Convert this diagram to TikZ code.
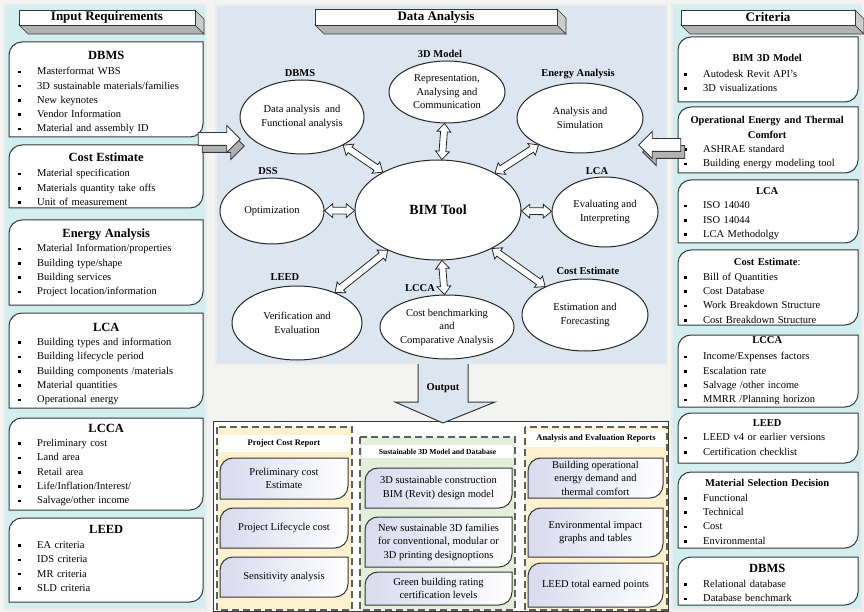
\documentclass[tikz,border=0pt]{standalone}
\usepackage{fontspec}
\setmainfont{Liberation Serif}
\usetikzlibrary{shapes.geometric,shapes.arrows,calc}

\definecolor{bgpage}{RGB}{243,243,241}
\definecolor{sidecyan}{RGB}{210,238,238}
\definecolor{midblue}{RGB}{220,230,241}
\definecolor{repyellow}{RGB}{253,241,208}
\definecolor{repgreen}{RGB}{227,239,218}
\definecolor{lavender}{RGB}{216,218,238}
\definecolor{edge}{RGB}{55,55,55}

\tikzset{
  panel/.style={draw=edge, line width=0.6pt, double=white!85!gray, double distance=1.3pt},
  rdframe/.style={draw=edge, line width=1pt, fill=white},
  outframe/.style={draw=edge, line width=1pt, left color=lavender, right color=white},
  colframe/.style={draw=edge!80, line width=1.3pt, dash pattern=on 7pt off 4pt},
  bubble/.style={ellipse, draw=black!85, line width=1pt, fill=white, align=center, inner sep=0pt, font=\fontsize{10.5}{13.5}\selectfont},
  bubtitle/.style={font=\fontsize{10.5}{12}\selectfont\bfseries},
  dblarrow/.style={double arrow, draw=black!85, line width=0.8pt, fill=white, inner xsep=0pt, inner ysep=3pt, double arrow head extend=3.5pt, double arrow tip angle=80},
  sidearr/.style={single arrow, draw=edge, line width=0.8pt, fill=white, minimum height=42pt, inner xsep=0pt, inner ysep=6pt, single arrow head extend=7pt},
  listtxt/.style={anchor=north west, inner sep=0pt, text width=#1, font=\fontsize{10.5}{14.3}\selectfont},
  outtxt/.style={align=center, inner sep=0pt, font=\fontsize{10.5}{13.5}\selectfont},
  headtxt/.style={font=\fontsize{8.5}{10}\selectfont\bfseries}
}

% box with round top-left and bottom-right corners
\newcommand\rdbox[5][rdframe]{\draw[#1] (#2,#5) -- (#2,#3+13) .. controls (#2,#3+5.8) and (#2+5.8,#3) .. (#2+13,#3) -- (#4,#3) -- (#4,#5-13) .. controls (#4,#5-5.8) and (#4-5.8,#5) .. (#4-13,#5) -- cycle;}
\newcommand\hd[2][12.5]{\noindent\makebox[\linewidth]{\fontsize{#1}{#1}\selectfont\bfseries #2}\par}
\newcommand\itm[1]{\noindent\makebox[24pt][l]{\hspace{5pt}\raisebox{1.6pt}{\rule{2.6pt}{2.6pt}}}#1\par}
% 3D header bar
\newcommand\banner[6]{%
  \filldraw[fill=gray!60, draw=edge, line width=0.6pt] (#1,#4) -- (#1+9,#4+9) -- (#3+9,#4+9) -- (#3,#4) -- cycle;
  \filldraw[fill=gray!40, draw=edge, line width=0.6pt] (#3,#2) -- (#3+9,#2+9) -- (#3+9,#4+9) -- (#3,#4) -- cycle;
  \draw[edge, line width=0.8pt, fill=white] (#1,#2) rectangle (#3,#4);
  \node[font=\fontsize{13}{14}\selectfont\bfseries] (#5) at ({(#1+#3)/2},{(#2+#4)/2}) {#6};}
% block double arrow between two bubbles
\newcommand\linkarrow[3]{%
  \path (#1) -- (#2) coordinate[pos=0] (#3-a) coordinate[pos=1] (#3-b);
  \path let \p1=(#3-a), \p2=(#3-b), \n1={veclen(\x2-\x1,\y2-\y1)} in
    (#3-a) -- (#3-b) node[dblarrow, sloped, midway, minimum height=\n1] (#3) {};}

\begin{document}
\begin{tikzpicture}[x=1pt, y=-1pt]
\useasboundingbox (0,0) rectangle (864,612);
\fill[bgpage] (0,0) rectangle (864,612);

\draw[panel, fill=sidecyan] (4,4) rectangle (206,609);
\draw[panel, fill=midblue] (216,5) rectangle (667,364);
\draw[panel, fill=sidecyan] (672,4) rectangle (862,609);

\banner{19}{10}{195}{25}{inHead}{Input Requirements}
\banner{315}{9}{557}{25}{daHead}{Data Analysis}
\banner{681}{10}{855}{25}{crHead}{Criteria}

% input requirements
\rdbox{9}{42}{203}{137}
\node[listtxt=186pt] (inDBMS) at (13,51) {\hd{DBMS}\vspace{1pt}
  \itm{Masterformat WBS}\itm{3D sustainable materials/families}\itm{New keynotes}\itm{Vendor Information}\itm{Material and assembly ID}};
\rdbox{9}{145}{203}{208}
\node[listtxt=186pt] (inCost) at (13,152.8) {\hd{Cost Estimate}\vspace{1pt}
  \itm{Material specification}\itm{Materials quantity take offs}\itm{Unit of measurement}};
\rdbox{9}{220}{203}{305}
\node[listtxt=186pt] (inEnergy) at (13,228.8) {\hd{Energy Analysis}
  \itm{Material Information/properties}\itm{Building type/shape}\itm{Building services}\itm{Project location/information}};
\rdbox{9}{313}{203}{408}
\node[listtxt=186pt] (inLCA) at (13,322.8) {\hd{LCA}
  \itm{Building types and information}\itm{Building lifecycle period}\itm{Building components /materials}\itm{Material quantities}\itm{Operational energy}};
\rdbox{9}{418}{203}{510}
\node[listtxt=186pt] (inLCCA) at (13,423.8) {\hd{LCCA}
  \itm{Preliminary cost}\itm{Land area}\itm{Retail area}\itm{Life/Inflation/Interest/}\itm{Salvage/other income}};
\rdbox{9}{518}{203}{602}
\node[listtxt=186pt] (inLEED) at (13,524.8) {\hd{LEED}\vspace{1pt}
  \itm{EA criteria}\itm{IDS criteria}\itm{MR criteria}\itm{SLD criteria}};

% criteria
\rdbox{678}{37}{858}{102}
\node[listtxt=176pt] (crBIM) at (679,54.5) {\hd[10.5]{BIM 3D Model}\vspace{1pt}
  \itm{Autodesk Revit API's}\itm{3D visualizations}};
\rdbox{678}{107}{858}{173}
\node[listtxt=176pt] (crEnergy) at (679,116.5) {\hd[10.5]{Operational Energy and Thermal}\hd[10.5]{Comfort}
  \itm{ASHRAE standard}\itm{Building energy modeling tool}};
\rdbox{678}{180}{858}{243}
\node[listtxt=176pt] (crLCA) at (679,187.5) {\hd[10.5]{LCA}
  \itm{ISO 14040}\itm{ISO 14044}\itm{LCA Methodolgy}};
\rdbox{678}{250}{858}{325}
\node[listtxt=176pt] (crCost) at (679,258.5) {\hd[10.5]{Cost Estimate\mdseries:}
  \itm{Bill of Quantities}\itm{Cost Database}\itm{Work Breakdown Structure}\itm{Cost Breakdown Structure}};
\rdbox{678}{335}{858}{407}
\node[listtxt=176pt] (crLCCA) at (679,336.5) {\hd[10.5]{LCCA}\vspace{2pt}
  \itm{Income/Expenses factors}\itm{Escalation rate}\itm{Salvage /other income}\itm{MMRR /Planning horizon}};
\rdbox{678}{413}{858}{463}
\node[listtxt=176pt] (crLEED) at (679,419.5) {\hd[10.5]{LEED}
  \itm{LEED v4 or earlier versions}\itm{Certification checklist}};
\rdbox{678}{472}{858}{548}
\node[listtxt=176pt] (crMat) at (679,479.5) {\hd[10.5]{Material Selection Decision}
  \itm{Functional}\itm{Technical}\itm{Cost}\itm{Environmental}};
\rdbox{678}{557}{858}{605}
\node[listtxt=176pt] (crDBMS) at (679,563.8) {\hd{DBMS}\vspace{1pt}
  \itm{Relational database}\itm{Database benchmark}};

% side arrows
\node[sidearr, fill=gray!60] (inShade) at (220,146) {};
\node[sidearr] (inArrow) at (216,139) {};
\node[sidearr, fill=gray!60, shape border rotate=180] (crShade) at (667,152) {};
\node[sidearr, shape border rotate=180] (crArrow) at (663,145) {};

% data analysis
\node[bubble, minimum width=166pt, minimum height=100pt, font=\fontsize{14}{16}\selectfont\bfseries] (bim) at (438,210) {BIM Tool};
\node[bubble, minimum width=124pt, minimum height=74pt] (dbms) at (302,117) {Data analysis~ and\\Functional analysis};
\node[bubble, minimum width=116pt, minimum height=62pt] (model) at (447,92) {Representation,\\Analysing and\\Communication};
\node[bubble, minimum width=126pt, minimum height=70pt] (energy) at (580,118) {Analysis and\\Simulation};
\node[bubble, minimum width=104pt, minimum height=66pt] (dss) at (272,211) {Optimization};
\node[bubble, minimum width=106pt, minimum height=70pt] (lca) at (605,212) {Evaluating and\\Interpreting};
\node[bubble, minimum width=130pt, minimum height=74pt] (leed) at (297,323) {Verification and\\Evaluation};
\node[bubble, minimum width=134pt, minimum height=64pt] (lcca) at (447,327) {Cost benchmarking\\and\\Comparative Analysis};
\node[bubble, minimum width=126pt, minimum height=72pt] (cost) at (585,315) {Estimation and\\Forecasting};

\node[bubtitle] (dbmsLbl) at (300,73) {DBMS};
\node[bubtitle] (modelLbl) at (440,54) {3D Model};
\node[bubtitle] (energyLbl) at (578,74) {Energy Analysis};
\node[bubtitle] (dssLbl) at (268,171) {DSS};
\node[bubtitle] (lcaLbl) at (597,171) {LCA};
\node[bubtitle] (leedLbl) at (285,277) {LEED};
\node[bubtitle] (lccaLbl) at (420,288) {LCCA};
\node[bubtitle] (costLbl) at (588,271) {Cost Estimate};

\linkarrow{bim}{dbms}{aDBMS}
\linkarrow{bim}{model}{aModel}
\linkarrow{bim}{energy}{aEnergy}
\linkarrow{bim}{dss}{aDSS}
\linkarrow{bim}{lca}{aLCA}
\linkarrow{bim}{leed}{aLEED}
\linkarrow{bim}{lcca}{aLCCA}
\linkarrow{bim}{cost}{aCost}

% output reports
\draw[edge, line width=1pt, fill=white] (213,421) rectangle (668,611);
\draw[colframe, fill=repyellow] (217,427) rectangle (352,610);
\draw[colframe, fill=repgreen] (360,437) rectangle (515,610);
\draw[colframe, fill=repyellow] (525,427) rectangle (667,610);
\fill[white] (219,435) rectangle (350,452);
\fill[white] (362,445) rectangle (513,458);
\fill[white] (527,430) rectangle (665,447);
\node[headtxt] (pcrHead) at (284,443.5) {Project Cost Report};
\node[headtxt, font=\fontsize{7.6}{9}\selectfont\bfseries] (smdHead) at (437.5,451.5) {Sustainable 3D Model and Database};
\node[headtxt] (aerHead) at (596,438.5) {Analysis and Evaluation Reports};

\rdbox[outframe]{220}{458}{348}{499}
\node[outtxt] (pcrPrelim) at (284,478.5) {Preliminary cost\\Estimate};
\rdbox[outframe]{220}{508}{348}{548}
\node[outtxt] (pcrLife) at (284,528) {Project Lifecycle cost};
\rdbox[outframe]{220}{557}{348}{597}
\node[outtxt] (pcrSens) at (284,577) {Sensitivity analysis};

\rdbox[outframe]{365}{468}{512}{508}
\node[outtxt] (smdModel) at (438.5,488) {3D sustainable construction\\BIM (Revit) design model};
\rdbox[outframe]{365}{517}{512}{567}
\node[outtxt] (smdFam) at (438.5,542) {New sustainable 3D families\\for conventional, modular or\\3D printing designoptions};
\rdbox[outframe]{365}{572}{512}{605}
\node[outtxt] (smdGreen) at (438.5,588.5) {Green building rating\\certification levels};

\rdbox[outframe]{528}{458}{663}{498}
\node[outtxt] (aerEnergy) at (595.5,478) {Building operational\\energy demand and\\thermal comfort};
\rdbox[outframe]{528}{508}{663}{557}
\node[outtxt] (aerEnv) at (595.5,532.5) {Environmental impact\\graphs and tables};
\rdbox[outframe]{528}{563}{663}{607}
\node[outtxt] (aerLEED) at (595.5,585) {LEED total earned points};

% output arrow
\fill[midblue] (418,362) -- (418,402) -- (395,402) -- (443,423) -- (495,402) -- (468,402) -- (468,362) -- cycle;
\draw[edge, line width=1pt] (418,364) -- (418,402) -- (395,402) -- (443,423) -- (495,402) -- (468,402) -- (468,364);
\node[bubtitle] (outLbl) at (443,388) {Output};
\end{tikzpicture}
\end{document}
